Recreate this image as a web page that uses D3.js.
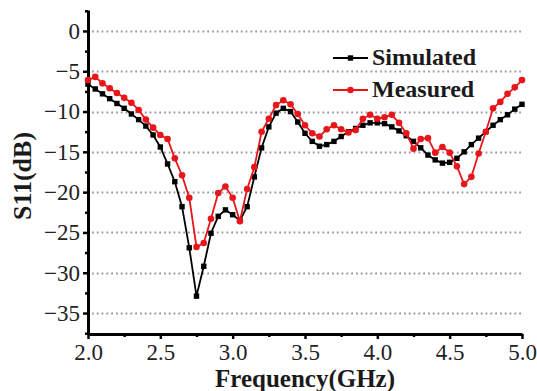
<!DOCTYPE html>
<html>
<head>
<meta charset="utf-8">
<script src="https://cdn.jsdelivr.net/npm/d3@7"></script>
<style>
  body { margin: 0; background: #fff; }
  svg { display: block; }
</style>
</head>
<body>
<script>
var width = 537,
    height = 391;

var serif = "'Liberation Serif', 'Times New Roman', serif";

// frequency points (GHz), 0.05 GHz step
var freq = d3.range(61).map(function(i) { return +(2 + i * 0.05).toFixed(2); });

var simulated = [
  -6.6, -7.2, -7.8, -8.4, -9.0, -9.6, -10.3, -11.0, -11.8, -12.9,
  -14.4, -16.5, -18.7, -21.8, -26.9, -32.9, -29.2, -25.1, -23.0, -22.2,
  -22.8, -23.5, -21.8, -18.1, -14.5, -11.9, -10.2, -9.6, -10.0, -11.3,
  -12.7, -13.7, -14.3, -14.1, -13.7, -13.1, -12.5, -12.1, -11.7, -11.4,
  -11.4, -11.5, -11.9, -12.4, -13.0, -13.7, -14.5, -15.4, -16.0, -16.4,
  -16.3, -15.8, -15.0, -14.1, -13.3, -12.5, -11.7, -11.0, -10.4, -9.7,
  -9.1
];

var measured = [
  -6.1, -5.7, -6.5, -7.1, -7.7, -8.3, -8.9, -9.8, -11.0, -12.0,
  -12.9, -13.4, -15.8, -17.9, -20.7, -26.8, -26.3, -23.3, -20.1, -19.3,
  -20.7, -23.6, -19.6, -16.9, -12.5, -10.9, -9.2, -8.6, -9.1, -10.3,
  -11.7, -12.7, -13.1, -12.2, -11.7, -12.2, -12.6, -12.3, -10.9, -10.4,
  -10.9, -10.7, -10.4, -11.4, -12.7, -14.6, -13.4, -13.3, -15.1, -14.4,
  -15.1, -16.8, -19.0, -18.1, -15.2, -12.5, -9.6, -8.8, -7.8, -7.0,
  -6.1
];

var xTicks = [2.0, 2.5, 3.0, 3.5, 4.0, 4.5, 5.0];
var xMinor = [2.25, 2.75, 3.25, 3.75, 4.25, 4.75];
var yTicks = [0, -5, -10, -15, -20, -25, -30, -35];
var yMinor = [2.5, -2.5, -7.5, -12.5, -17.5, -22.5, -27.5, -32.5, -37.5];

var seriesNames = ["Simulated", "Measured"];
var seriesColors = ["#000000", "#e8161b"];

var x = d3.scaleLinear().domain([2, 5]).range([88, 522]);
var y = d3.scaleLinear().domain([-37.6, 2.6]).range([334, 10]);

var svg = d3.select("body").append("svg")
  .attr("width", width)
  .attr("height", height)
  .style("font-family", serif);

// dotted horizontal grid
svg.append("g")
  .selectAll("path")
  .data(yTicks)
  .enter().append("path")
    .attr("d", function(d) { var yy = Math.round(y(d)) + 0.5; return "M" + (x(2) + 4) + "," + yy + "H" + x(5); })
    .attr("fill", "none")
    .attr("stroke", "#9a9a9a")
    .attr("stroke-width", 1.8)
    .attr("stroke-dasharray", "1.8,3");

// axes
svg.append("g")
  .attr("transform", "translate(0," + y.range()[0] + ")")
  .call(d3.axisBottom(x).tickValues(xTicks).tickFormat(d3.format(".1f")).tickSizeInner(5).tickSizeOuter(0).tickPadding(5));

svg.append("g")
  .attr("transform", "translate(0," + y.range()[0] + ")")
  .call(d3.axisBottom(x).tickValues(xMinor).tickFormat("").tickSizeInner(3).tickSizeOuter(0))
  .select(".domain").remove();

svg.append("g")
  .attr("transform", "translate(" + x.range()[0] + ",0)")
  .call(d3.axisLeft(y).tickValues(yTicks).tickFormat(d3.format("d")).tickSizeInner(5).tickSizeOuter(0).tickPadding(3));

svg.append("g")
  .attr("transform", "translate(" + x.range()[0] + ",0)")
  .call(d3.axisLeft(y).tickValues(yMinor).tickFormat("").tickSizeInner(3).tickSizeOuter(0))
  .select(".domain").remove();

svg.selectAll(".domain").attr("stroke", "#000").attr("stroke-width", 3);
svg.selectAll(".tick line").attr("stroke", "#000").attr("stroke-width", 2.5);
svg.selectAll(".tick text")
  .style("font-family", serif)
  .style("font-size", "23px")
  .attr("fill", "#222");

// series
var data = [simulated, measured];
var line = d3.line()
  .x(function(d, i) { return x(freq[i]); })
  .y(function(d) { return y(d); });

data.forEach(function(vals, k) {
  var g = svg.append("g");
  g.append("path")
    .datum(vals)
    .attr("fill", "none")
    .attr("stroke", seriesColors[k])
    .attr("stroke-width", 1.8)
    .attr("d", line);
  if (k === 0) {
    g.selectAll("rect")
      .data(vals)
      .enter().append("rect")
        .attr("x", function(d, i) { return x(freq[i]) - 2.7; })
        .attr("y", function(d) { return y(d) - 2.7; })
        .attr("width", 5.4)
        .attr("height", 5.4)
        .attr("fill", seriesColors[k]);
  } else {
    g.selectAll("circle")
      .data(vals)
      .enter().append("circle")
        .attr("cx", function(d, i) { return x(freq[i]); })
        .attr("cy", function(d) { return y(d); })
        .attr("r", 3.3)
        .attr("fill", seriesColors[k]);
  }
});

// legend
var legend = svg.append("g");
seriesNames.forEach(function(name, k) {
  var ly = 58 + k * 32;
  legend.append("line")
    .attr("x1", 333).attr("x2", 368)
    .attr("y1", ly).attr("y2", ly)
    .attr("stroke", seriesColors[k])
    .attr("stroke-width", 1.8);
  if (k === 0) {
    legend.append("rect")
      .attr("x", 350.5 - 2.7).attr("y", ly - 2.7)
      .attr("width", 5.4).attr("height", 5.4)
      .attr("fill", seriesColors[k]);
  } else {
    legend.append("circle")
      .attr("cx", 350.5).attr("cy", ly).attr("r", 3.3)
      .attr("fill", seriesColors[k]);
  }
  legend.append("text")
    .attr("x", 372)
    .attr("y", ly + 7)
    .style("font-size", "24px")
    .style("font-weight", "bold")
    .attr("fill", "#1a1a1a")
    .text(name);
});

// axis titles
svg.append("text")
  .attr("x", 305)
  .attr("y", 387)
  .attr("text-anchor", "middle")
  .style("font-size", "25px")
  .style("font-weight", "bold")
  .attr("fill", "#1a1a1a")
  .text("Frequency(GHz)");

svg.append("text")
  .attr("transform", "translate(31,176) rotate(-90)")
  .attr("text-anchor", "middle")
  .style("font-size", "26px")
  .style("font-weight", "bold")
  .attr("fill", "#1a1a1a")
  .text("S11(dB)");
</script>
</body>
</html>
